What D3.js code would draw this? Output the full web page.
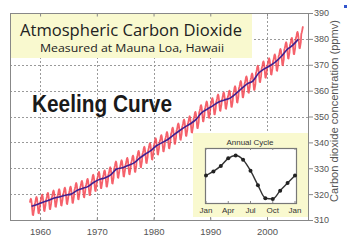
<!DOCTYPE html>
<html><head><meta charset="utf-8">
<script src="https://cdn.jsdelivr.net/npm/d3@7"></script>
<style>html,body{margin:0;padding:0;background:#fff;}svg{display:block;}</style>
</head><body>
<script>
// Annual mean CO2 (ppmv) at Mauna Loa, 1958..2006
const years = d3.range(1958, 2007);
const annualMean = [315.3,316.0,316.9,317.6,318.5,319.0,319.6,320.0,321.4,322.2,
  323.0,324.6,325.7,326.3,327.5,329.7,330.2,331.1,332.0,333.8,
  335.4,336.8,338.7,339.9,341.1,342.8,344.4,345.9,347.2,348.9,
  351.5,352.9,354.2,355.6,356.4,357.1,358.8,360.8,362.6,363.7,
  366.7,368.4,369.6,371.1,373.2,375.8,377.5,379.8,381.9];
// Annual cycle (deviation from the mean, ppmv), Jan..Jan
const cycleMonths = ["Jan","Feb","Mar","Apr","May","Jun","Jul","Aug","Sep","Oct","Nov","Dec","Jan"];
const cycleValues = [0.0,0.6,1.4,2.5,2.9,2.3,0.7,-1.4,-3.3,-3.4,-2.2,-1.1,0.0];
const yTicks = [310,320,330,340,350,360,370,380,390];
const xTicks = [1960,1970,1980,1990,2000];
const insetTicks = [0,3,6,9,12];
const firstMonth = 2;   // data start: March 1958
const lastMonth = 4;    // data end: May 2006

const W = 350, H = 240;
const svg = d3.select("body").append("svg").attr("width", W).attr("height", H);
const L = 10, R = 309, T = 13, B = 220;
const x = d3.scaleLinear().domain([1954.7, 2007.4]).range([L, R]);
const y = d3.scaleLinear().domain([310, 390]).range([B, T]);

// grid
const grid = svg.append("g").attr("stroke", "#9a9a9a").attr("stroke-width", 1).attr("stroke-dasharray", "2,2");
yTicks.slice(1, -1).forEach(v => grid.append("line").attr("x1", L).attr("x2", R).attr("y1", Math.round(y(v)) + 0.5).attr("y2", Math.round(y(v)) + 0.5));
xTicks.forEach(v => grid.append("line").attr("y1", T).attr("y2", B).attr("x1", Math.round(x(v)) + 0.5).attr("x2", Math.round(x(v)) + 0.5));

// title box
svg.append("rect").attr("x", L).attr("y", T).attr("width", 242).attr("height", 45).attr("fill", "#f9f9cf");
svg.append("text").attr("x", 131).attr("y", 36).attr("text-anchor", "middle")
  .attr("font-family", "Open Sans, sans-serif").attr("font-size", 16).attr("fill", "#222")
  .attr("textLength", 222).attr("lengthAdjust", "spacingAndGlyphs").text("Atmospheric Carbon Dioxide");
svg.append("text").attr("x", 132).attr("y", 52).attr("text-anchor", "middle")
  .attr("font-family", "Open Sans, sans-serif").attr("font-size", 11).attr("fill", "#222")
  .attr("textLength", 184).attr("lengthAdjust", "spacingAndGlyphs").text("Measured at Mauna Loa, Hawaii");

// Keeling Curve label
svg.append("text").attr("x", 32).attr("y", 112)
  .attr("font-family", "Liberation Sans, Arial, sans-serif").attr("font-weight", "bold").attr("font-size", 23).attr("fill", "#1a1a1a")
  .attr("textLength", 140).attr("lengthAdjust", "spacingAndGlyphs").text("Keeling Curve");

// monthly series
const monthly = [];
years.forEach((yr, i) => {
  for (let m = 0; m < 12; m++) {
    if (i === 0 && m < firstMonth) continue;
    if (yr === 2006 && m > lastMonth) continue;
    monthly.push([yr + (m + 0.5) / 12, annualMean[i] + cycleValues[m]]);
  }
});
const trend = years.map((yr, i) => [yr + 0.5, annualMean[i]]).filter(d => d[0] < 2006);
const line = d3.line().x(d => x(d[0])).y(d => y(d[1]));
svg.append("path").datum(monthly).attr("d", line).attr("fill", "none")
  .attr("stroke", "#f23a46").attr("stroke-width", 1.8).attr("stroke-opacity", 0.8).attr("stroke-linejoin", "round");
svg.append("path").datum(trend).attr("d", d3.line().curve(d3.curveMonotoneX).x(d => x(d[0])).y(d => y(d[1])))
  .attr("fill", "none").attr("stroke", "#40208f").attr("stroke-width", 1.6);

// inset
const iL = 205, iR = 296, iT = 148, iB = 203;
svg.append("rect").attr("x", 193).attr("y", 133).attr("width", R - 193).attr("height", 84).attr("fill", "#f9f9cf");
svg.append("rect").attr("x", iL + 0.5).attr("y", iT + 0.5).attr("width", iR - iL).attr("height", iB - iT)
  .attr("fill", "#fff").attr("stroke", "#777").attr("stroke-width", 1.2);
const ix = d3.scaleLinear().domain([0, 12]).range([iL + 1, iR - 1]);
const iy = d3.scaleLinear().domain([-4, 4]).range([iB, iT]);
const ig = svg.append("g").attr("stroke", "#888").attr("stroke-width", 1);
insetTicks.forEach(v => {
  ig.append("line").attr("x1", ix(v)).attr("x2", ix(v)).attr("y1", iT).attr("y2", iT + 2);
  ig.append("line").attr("x1", ix(v)).attr("x2", ix(v)).attr("y1", iB).attr("y2", iB - 2);
});
const cyc = cycleValues.map((v, i) => [i, v]);
svg.append("path").datum(cyc).attr("d", d3.line().curve(d3.curveMonotoneX).x(d => ix(d[0])).y(d => iy(d[1])))
  .attr("fill", "none").attr("stroke", "#333").attr("stroke-width", 1.4);
svg.append("g").selectAll("circle").data(cyc).join("circle")
  .attr("cx", d => ix(d[0])).attr("cy", d => iy(d[1])).attr("r", 2).attr("fill", "#222");
svg.append("text").attr("x", 250).attr("y", 145).attr("text-anchor", "middle")
  .attr("font-family", "Liberation Sans, Arial, sans-serif").attr("font-size", 8).attr("fill", "#333").text("Annual Cycle");
svg.append("g").selectAll("text").data(insetTicks).join("text")
  .attr("x", d => ix(d)).attr("y", 213).attr("text-anchor", "middle")
  .attr("font-family", "Liberation Sans, Arial, sans-serif").attr("font-size", 8).attr("fill", "#333")
  .text(d => cycleMonths[d]);

// frame
svg.append("rect").attr("x", L + 0.5).attr("y", T + 0.5).attr("width", R - L - 1).attr("height", B - T)
  .attr("fill", "none").attr("stroke", "#888").attr("stroke-width", 1);

// axes
const yAxis = d3.axisRight(y).tickValues(yTicks).tickSize(4).tickPadding(1).tickFormat(d3.format("d"));
const ga = svg.append("g").attr("transform", `translate(${R},0)`).call(yAxis);
ga.select(".domain").remove();
ga.selectAll("line").attr("stroke", "#888");
ga.selectAll("text").attr("font-family", "Liberation Sans, Arial, sans-serif").attr("font-size", 9).attr("fill", "#555");

const xAxis = d3.axisBottom(x).tickValues(xTicks).tickSize(-3).tickPadding(8).tickFormat(d3.format("d"));
const gx = svg.append("g").attr("transform", `translate(0,${B + 0.5})`).call(xAxis);
gx.select(".domain").remove();
gx.selectAll("line").attr("stroke", "#888");
gx.selectAll("text").attr("font-family", "Liberation Sans, Arial, sans-serif").attr("font-size", 9.5).attr("fill", "#555");
const gxt = svg.append("g").attr("transform", `translate(0,${T + 0.5})`).call(d3.axisTop(x).tickValues(xTicks).tickSize(-3).tickFormat(""));
gxt.select(".domain").remove();
gxt.selectAll("line").attr("stroke", "#888");

// y title
svg.append("text").attr("transform", "translate(338,111) rotate(-90)").attr("text-anchor", "middle")
  .attr("font-family", "Liberation Sans, Arial, sans-serif").attr("font-size", 10.5).attr("fill", "#555")
  .attr("textLength", 182).attr("lengthAdjust", "spacingAndGlyphs")
  .text("Carbon dioxide concentration (ppmv)");

// small legend marker at top right
svg.append("rect").attr("x", 344).attr("y", 5).attr("width", 3).attr("height", 3).attr("fill", "#3355cc");
</script>
</body></html>
